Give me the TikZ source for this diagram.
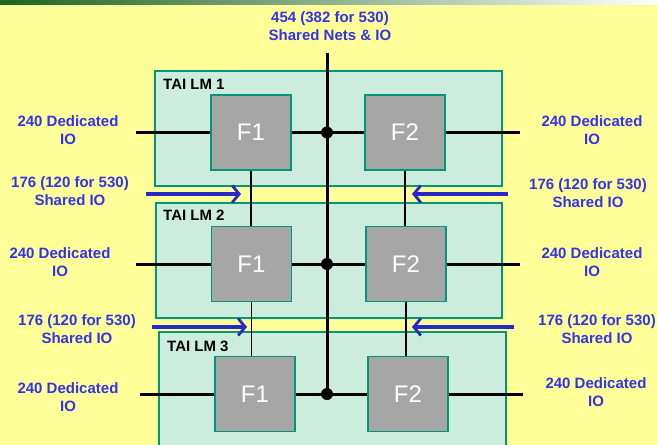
\documentclass[tikz,border=0pt]{standalone}
\usepackage{fontspec}
\setmainfont{Liberation Sans}
\usetikzlibrary{arrows.meta}
\definecolor{slidebg}{RGB}{255,255,153}
\definecolor{slidegreen}{RGB}{30,100,30}
\definecolor{lmfill}{RGB}{204,237,221}
\definecolor{lmedge}{RGB}{0,150,120}
\definecolor{fgray}{RGB}{166,166,166}
\definecolor{iotext}{RGB}{51,51,235}
\definecolor{arrowblue}{RGB}{40,40,200}

\tikzset{
  lmbox/.style={draw=lmedge, fill=lmfill, line width=1.5pt},
  fpga/.style={draw=lmedge, fill=fgray, line width=1.5pt, minimum width=80pt, minimum height=75pt,
    inner sep=0pt, text=white, font=\fontsize{24}{24}\selectfont},
  iolabel/.style={text=iotext, align=center, font=\fontsize{15}{18}\selectfont\bfseries},
  lmlabel/.style={anchor=base west, inner sep=0pt, font=\fontsize{15}{18}\selectfont\bfseries},
  wire/.style={line width=3pt},
  thinwire/.style={line width=1.8pt},
  shared/.style={draw=arrowblue, line width=3.5pt, -{Straight Barb[length=7pt,width=17pt,line width=2.8pt]}},
  junction/.style={circle, fill, inner sep=0pt, minimum width=12pt, minimum height=11pt}
}

\begin{document}
\begin{tikzpicture}[x=1pt, y=-1pt]
	\useasboundingbox (0,0) rectangle (657,445);
	\clip (0,0) rectangle (657,445);
	\fill[slidebg] (0,0) rectangle (657,445);
	\shade[left color=slidegreen, right color=white] (0,0) rectangle (657,4);

	% logic modules
	\draw[lmbox] (155,71) rectangle (502,186);
	\draw[lmbox] (156,203) rectangle (502,318);
	\draw[lmbox] (159,332) rectangle (506,460);
	\node[lmlabel] (lm1) at (163,89) {TAI LM 1};
	\node[lmlabel] (lm2) at (163,220) {TAI LM 2};
	\node[lmlabel] (lm3) at (167,351) {TAI LM 3};

	% FPGA blocks
	\node[fpga] (f11) at (251,132.5) {F1};
	\node[fpga] (f12) at (405,132.5) {F2};
	\node[fpga] (f21) at (251.5,264) {F1};
	\node[fpga] (f22) at (406,264) {F2};
	\node[fpga] (f31) at (255,394) {F1};
	\node[fpga] (f32) at (408,394) {F2};

	\node[junction] (j1) at (327,132.5) {};
	\node[junction] (j2) at (327,264) {};
	\node[junction] (j3) at (327,394) {};

	% shared bus
	\coordinate (bustop) at (327,53);
	\draw[wire] (bustop) -- (j3.center);
	\draw[wire] (f11.east) -- (f12.west);
	\draw[wire] (f21.east) -- (f22.west);
	\draw[wire] (f31.east) -- (f32.west);

	% dedicated IO
	\coordinate (d1l) at (136,132.5);
	\coordinate (d1r) at (520,132.5);
	\coordinate (d2l) at (136,264);
	\coordinate (d2r) at (520,264);
	\coordinate (d3l) at (140,394);
	\coordinate (d3r) at (523,394);
	\draw[wire] (d1l) -- (f11.west);
	\draw[wire] (f12.east) -- (d1r);
	\draw[wire] (d2l) -- (f21.west);
	\draw[wire] (f22.east) -- (d2r);
	\draw[wire] (d3l) -- (f31.west);
	\draw[wire] (f32.east) -- (d3r);

	% links between modules
	\draw[thinwire] (f11.south) -- (f21.north -| f11.south);
	\draw[thinwire] (f21.south) -- (f31.north -| f21.south);
	\draw[thinwire] (f12.south) -- (f22.north -| f12.south);
	\draw[thinwire] (f22.south) -- (f32.north -| f22.south);

	% shared IO arrows
	\coordinate (s1l) at (146,194);
	\coordinate (e1l) at (241,194);
	\coordinate (s1r) at (508,194);
	\coordinate (e1r) at (412,194);
	\coordinate (s2l) at (152,327);
	\coordinate (e2l) at (247,327);
	\coordinate (s2r) at (514,327);
	\coordinate (e2r) at (412,327);
	\draw[shared] (s1l) -- (e1l);
	\draw[shared] (s1r) -- (e1r);
	\draw[shared] (s2l) -- (e2l);
	\draw[shared] (s2r) -- (e2r);

	% labels
	\node[iolabel] (buslbl) at (330,26) {454 (382 for 530)\\Shared Nets \& IO};
	\node[iolabel] (ded1l) at (68,130) {240 Dedicated\\IO};
	\node[iolabel] (ded1r) at (592,130) {240 Dedicated\\IO};
	\node[iolabel] (ded2l) at (60,262) {240 Dedicated\\IO};
	\node[iolabel] (ded2r) at (592,262) {240 Dedicated\\IO};
	\node[iolabel] (ded3l) at (68,397) {240 Dedicated\\IO};
	\node[iolabel] (ded3r) at (596,392) {240 Dedicated\\IO};
	\node[iolabel] (sh1l) at (70,191) {176 (120 for 530)\\Shared IO};
	\node[iolabel] (sh1r) at (588,193) {176 (120 for 530)\\Shared IO};
	\node[iolabel] (sh2l) at (77,329) {176 (120 for 530)\\Shared IO};
	\node[iolabel] (sh2r) at (597,329) {176 (120 for 530)\\Shared IO};
\end{tikzpicture}
\end{document}
